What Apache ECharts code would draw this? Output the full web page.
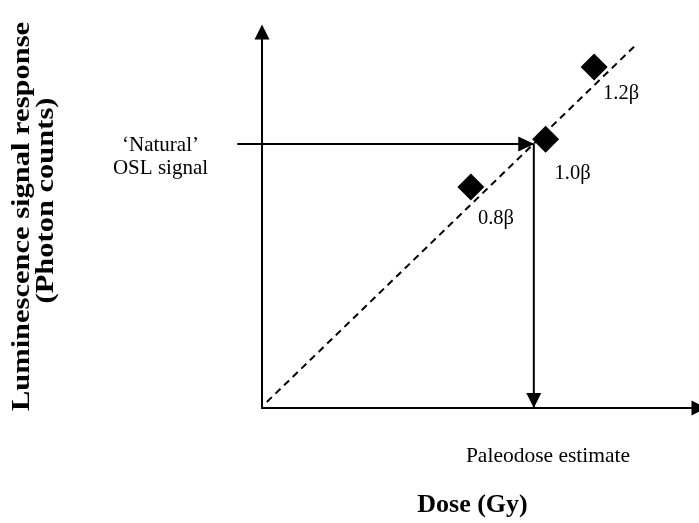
<!DOCTYPE html>
<html>
<head>
<meta charset="utf-8">
<script src="https://cdn.jsdelivr.net/npm/echarts@6/dist/echarts.min.js"></script>
<style>
html,body{margin:0;padding:0;background:#fff;}
#chart{width:699px;height:523px;}
</style>
</head>
<body>
<div id="chart"></div>
<script>
// ---- data (axis units: arbitrary dose / signal units, 0..10) ----
var betaLabels = ['0.8\u03b2', '1.0\u03b2', '1.2\u03b2'];
var betaDose = [4.78, 6.49, 7.60];
var betaSignal = [5.88, 7.15, 9.07];
var fitLineX = [0.11, 8.55];
var fitLineY = [0.16, 9.65];
var naturalSignal = 7.02;      // 'Natural' OSL signal level
var naturalStartX = -0.56;     // arrow starts left of the y axis
var paleodose = 6.22;          // paleodose estimate
var axisMax = 10;
var overhangMin = -0.6;        // extra room left of the y axis for the signal arrow

var yTitleLines = ['Luminescence signal response', '(Photon counts)'];
var xTitle = 'Dose (Gy)';
var paleodoseText = 'Paleodose estimate';
var naturalText = '\u2018Natural\u2019\nOSL signal';

var serif = "'Liberation Serif','Times New Roman',serif";
var labelOffsets = [[7, 32], [9, 34], [9, 27]];

var chart = echarts.init(document.getElementById('chart'), null, {renderer: 'canvas'});

var diamonds = betaDose.map(function (d, i) {
  return {
    value: [d, betaSignal[i]],
    label: {offset: labelOffsets[i]}
  };
});

var plotLeft = 262, plotRight = 703, plotTop = 32, plotBottom = 408;
var pxPerX = (plotRight - plotLeft) / axisMax;

var hiddenAxis = {
  show: false, type: 'value',
  axisLine: {show: false}, axisTick: {show: false}, axisLabel: {show: false}, splitLine: {show: false}
};

var option = {
  animation: false,
  backgroundColor: '#ffffff',
  grid: [
    {left: plotLeft, top: plotTop, right: 699 - plotRight, bottom: 523 - plotBottom, containLabel: false},
    {left: plotLeft + overhangMin * pxPerX, top: plotTop, right: 699 - plotRight, bottom: 523 - plotBottom, containLabel: false}
  ],
  xAxis: [
    {
      type: 'value', min: 0, max: axisMax, gridIndex: 0,
      axisLine: {show: true, onZero: true, symbol: ['none', 'triangle'], symbolSize: [15, 15],
        lineStyle: {color: '#000', width: 2}},
      axisTick: {show: false}, axisLabel: {show: false}, splitLine: {show: false}
    },
    Object.assign({}, hiddenAxis, {gridIndex: 1, min: overhangMin, max: axisMax})
  ],
  yAxis: [
    {
      type: 'value', min: 0, max: axisMax, gridIndex: 0,
      axisLine: {show: true, onZero: true, symbol: ['none', 'triangle'], symbolSize: [15, 15],
        lineStyle: {color: '#000', width: 2}},
      axisTick: {show: false}, axisLabel: {show: false}, splitLine: {show: false}
    },
    Object.assign({}, hiddenAxis, {gridIndex: 1, min: 0, max: axisMax})
  ],
  series: [
    {
      type: 'line', name: 'fit',
      data: [[fitLineX[0], fitLineY[0]], [fitLineX[1], fitLineY[1]]],
      symbol: 'none', clip: false,
      lineStyle: {color: '#000', width: 2, type: [7, 5]},
      z: 2
    },
    {
      type: 'line', name: 'natural', xAxisIndex: 1, yAxisIndex: 1,
      data: [
        {value: [naturalStartX, naturalSignal], symbol: 'none'},
        {value: [paleodose, naturalSignal], symbol: 'triangle', symbolSize: [15, 16],
          symbolRotate: -90, symbolOffset: [-7.5, 0]}
      ],
      showSymbol: true, clip: false,
      itemStyle: {color: '#000', opacity: 1},
      lineStyle: {color: '#000', width: 2},
      z: 3
    },
    {
      type: 'line', name: 'paleodose',
      data: [
        {value: [paleodose, naturalSignal], symbol: 'none'},
        {value: [paleodose, 0], symbol: 'triangle', symbolSize: [15, 15],
          symbolRotate: 180, symbolOffset: [0, -7.5]}
      ],
      showSymbol: true, clip: false,
      itemStyle: {color: '#000', opacity: 1},
      lineStyle: {color: '#000', width: 2},
      z: 3
    },
    {
      type: 'scatter', name: 'beta',
      data: diamonds,
      symbol: 'diamond', symbolSize: [27, 27],
      itemStyle: {color: '#000', opacity: 1},
      label: {
        show: true, position: 'inside', align: 'left', verticalAlign: 'middle',
        color: '#000', fontFamily: serif, fontSize: 20.5,
        formatter: function (p) { return betaLabels[p.dataIndex]; }
      },
      z: 4
    }
  ],
  graphic: [
    {
      type: 'text', x: 160.5, y: 157,
      style: {text: naturalText, fill: '#000', font: '21px ' + serif,
        textAlign: 'center', textVerticalAlign: 'middle', lineHeight: 23}
    },
    {
      type: 'text', x: 548, y: 456,
      style: {text: paleodoseText, fill: '#000', font: '21.5px ' + serif,
        textAlign: 'center', textVerticalAlign: 'middle'}
    },
    {
      type: 'text', x: 472.5, y: 505,
      style: {text: xTitle, fill: '#000', font: 'bold 26px ' + serif,
        textAlign: 'center', textVerticalAlign: 'middle'}
    },
    {
      type: 'text', x: 22, y: 216.5, rotation: Math.PI / 2, scaleY: 0.85,
      style: {text: yTitleLines[0], fill: '#000',
        font: 'bold 30.5px ' + serif, textAlign: 'center', textVerticalAlign: 'middle'}
    },
    {
      type: 'text', x: 46.5, y: 200.5, rotation: Math.PI / 2, scaleY: 0.85,
      style: {text: yTitleLines[1], fill: '#000',
        font: 'bold 30.5px ' + serif, textAlign: 'center', textVerticalAlign: 'middle'}
    }
  ]
};
chart.setOption(option);
</script>
</body>
</html>
